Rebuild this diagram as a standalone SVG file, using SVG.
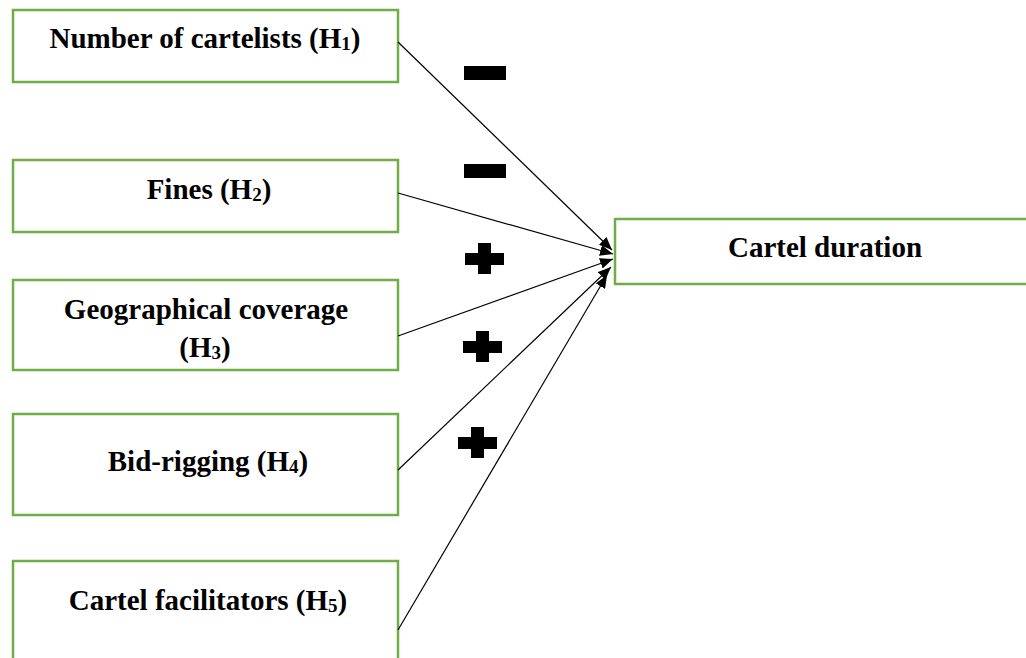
<svg xmlns="http://www.w3.org/2000/svg" width="1026" height="658" viewBox="0 0 1026 658">
<defs>
<style>
.box{fill:#fff;stroke:#70AD47;stroke-width:2.5}
.lbl{font-family:"Liberation Serif","Times New Roman",serif;font-weight:bold;font-size:29px;fill:#000;text-anchor:middle}
.sub{font-size:19px}
.conn{stroke:#000;stroke-width:1.2;fill:none;marker-end:url(#ah)}
.sign{fill:#000}
</style>
<marker id="ah" viewBox="0 0 12 10" refX="12" refY="5" markerWidth="13" markerHeight="11" markerUnits="userSpaceOnUse" orient="auto">
<path d="M0,0 L12,5 L0,10 z" fill="#000"/>
</marker>
</defs>
<rect width="1026" height="658" fill="#fff"/>
<g id="n1"><rect class="box" x="13" y="10" width="385" height="72"/><text class="lbl" x="205" y="48">Number of cartelists (H<tspan class="sub" dy="2">1</tspan><tspan dy="-2">)</tspan></text></g>
<g id="n2"><rect class="box" x="13" y="160" width="385" height="72"/><text class="lbl" x="209" y="199">Fines (H<tspan class="sub" dy="2">2</tspan><tspan dy="-2">)</tspan></text></g>
<g id="n3"><rect class="box" x="13" y="280" width="385" height="90"/><text class="lbl" x="206" y="319">Geographical coverage</text><text class="lbl" x="205" y="357">(H<tspan class="sub" dy="2">3</tspan><tspan dy="-2">)</tspan></text></g>
<g id="n4"><rect class="box" x="13" y="414" width="385" height="101"/><text class="lbl" x="208" y="471">Bid-rigging (H<tspan class="sub" dy="2">4</tspan><tspan dy="-2">)</tspan></text></g>
<g id="n5"><rect class="box" x="13" y="561" width="385" height="110"/><text class="lbl" x="208" y="610">Cartel facilitators (H<tspan class="sub" dy="2">5</tspan><tspan dy="-2">)</tspan></text></g>
<g id="n6"><rect class="box" x="615" y="219" width="420" height="65"/><text class="lbl" x="825" y="257">Cartel duration</text></g>
<g id="connectors">
<line class="conn" x1="398" y1="42" x2="612" y2="250"/>
<line class="conn" x1="398" y1="193" x2="613" y2="254"/>
<line class="conn" x1="398" y1="336" x2="613" y2="259"/>
<line class="conn" x1="398" y1="470" x2="611" y2="267"/>
<line class="conn" x1="398" y1="630" x2="607" y2="275"/>
</g>
<g id="signs">
<rect class="sign" x="464" y="66" width="42" height="14"/>
<rect class="sign" x="464" y="164" width="42" height="14"/>
<path class="sign" d="M478,243h13v10h13v12h-13v9h-13v-9h-13v-12h13z"/>
<path class="sign" d="M476,331h13v10h13v12h-13v9h-13v-9h-13v-12h13z"/>
<path class="sign" d="M471,427h13v10h13v12h-13v9h-13v-9h-13v-12h13z"/>
</g>
</svg>
